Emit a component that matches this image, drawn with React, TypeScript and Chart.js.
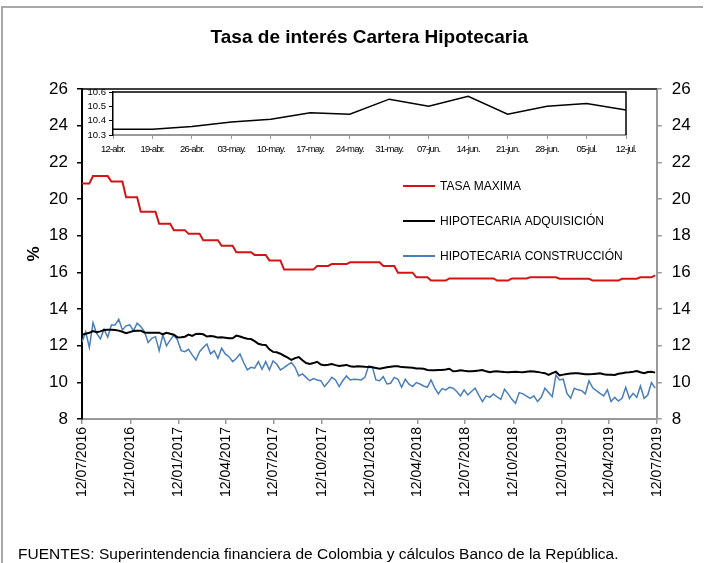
import { useEffect, useRef } from "react";
import { Chart, registerables } from "chart.js";

Chart.register(...registerables);

const FONT = "'Liberation Sans', Arial, Helvetica, sans-serif";
Chart.defaults.font.family = FONT;

const chartTitle = "Tasa de interés Cartera Hipotecaria";
const footerText = "FUENTES: Superintendencia financiera de Colombia y cálculos Banco de la República.";
const seriesNames = ["TASA MAXIMA", "HIPOTECARIA ADQUISICIÓN", "HIPOTECARIA CONSTRUCCIÓN"];
const seriesColors = ["#d41414", "#000000", "#4a7ebb"];

const tickLabels = [
  "12/07/2016", "12/10/2016", "12/01/2017", "12/04/2017", "12/07/2017", "12/10/2017", "12/01/2018",
  "12/04/2018", "12/07/2018", "12/10/2018", "12/01/2019", "12/04/2019", "12/07/2019",
];

// weekly observations starting 12/07/2016
const tasaMaxima = [
  20.85, 20.85, 20.85, 21.25, 21.25, 21.25, 21.25, 21.25, 20.95, 20.95,
  20.95, 20.95, 20.1, 20.1, 20.1, 20.1, 19.3, 19.3, 19.3, 19.3,
  19.3, 18.65, 18.65, 18.65, 18.65, 18.3, 18.3, 18.3, 18.3, 18.1,
  18.1, 18.1, 18.1, 17.75, 17.75, 17.75, 17.75, 17.75, 17.45, 17.45,
  17.45, 17.45, 17.1, 17.1, 17.1, 17.1, 17.1, 16.95, 16.95, 16.95,
  16.95, 16.65, 16.65, 16.65, 16.65, 16.15, 16.15, 16.15, 16.15, 16.15,
  16.15, 16.15, 16.15, 16.15, 16.35, 16.35, 16.35, 16.35, 16.45, 16.45,
  16.45, 16.45, 16.45, 16.55, 16.55, 16.55, 16.55, 16.55, 16.55, 16.55,
  16.55, 16.55, 16.35, 16.35, 16.35, 16.35, 15.98, 15.98, 15.98, 15.98,
  15.98, 15.73, 15.73, 15.73, 15.73, 15.55, 15.55, 15.55, 15.55, 15.55,
  15.67, 15.67, 15.67, 15.67, 15.67, 15.67, 15.67, 15.67, 15.67, 15.67,
  15.67, 15.67, 15.67, 15.55, 15.55, 15.55, 15.55, 15.67, 15.67, 15.67,
  15.67, 15.67, 15.73, 15.73, 15.73, 15.73, 15.73, 15.73, 15.73, 15.73,
  15.65, 15.65, 15.65, 15.65, 15.65, 15.65, 15.65, 15.65, 15.65, 15.55,
  15.55, 15.55, 15.55, 15.55, 15.55, 15.55, 15.55, 15.65, 15.65, 15.65,
  15.65, 15.65, 15.73, 15.73, 15.73, 15.73, 15.84,
];

const hipAdquisicion = [
  12.6, 12.65, 12.7, 12.8, 12.73, 12.78, 12.85, 12.87, 12.87, 12.86,
  12.82, 12.76, 12.68, 12.74, 12.8, 12.82, 12.82, 12.72, 12.71, 12.71,
  12.71, 12.71, 12.62, 12.7, 12.65, 12.6, 12.45, 12.46, 12.49, 12.6,
  12.53, 12.64, 12.65, 12.62, 12.5, 12.53, 12.5, 12.44, 12.46, 12.43,
  12.4, 12.4, 12.55, 12.5, 12.43, 12.38, 12.36, 12.25, 12.1, 12.05,
  12.04, 11.8, 11.66, 11.64, 11.56, 11.45, 11.35, 11.22, 11.32, 11.38,
  11.2, 11.05, 11.0, 11.05, 11.12, 10.97, 10.93, 10.96, 11.0, 10.94,
  10.89, 10.92, 10.95, 10.88, 10.85, 10.88, 10.87, 10.85, 10.84, 10.82,
  10.78, 10.74, 10.78, 10.82, 10.85, 10.88, 10.88, 10.83, 10.82, 10.81,
  10.8, 10.76, 10.75, 10.74, 10.67, 10.66, 10.66, 10.67, 10.67, 10.7,
  10.74, 10.6, 10.62, 10.66, 10.63, 10.61, 10.6, 10.62, 10.64, 10.67,
  10.6, 10.55, 10.59, 10.6, 10.58, 10.56, 10.55, 10.57, 10.58, 10.56,
  10.55, 10.58, 10.6, 10.59, 10.57, 10.53, 10.5, 10.4, 10.5, 10.58,
  10.38, 10.42, 10.45, 10.48, 10.49, 10.49, 10.47, 10.44, 10.44, 10.45,
  10.47, 10.49, 10.44, 10.42, 10.41, 10.4, 10.47, 10.5, 10.53, 10.55,
  10.58, 10.62, 10.55, 10.5, 10.56, 10.58, 10.53,
];

const hipConstruccion = [
  12.2, 12.75, 11.9, 13.25, 12.67, 12.37, 12.9, 12.46, 13.13, 13.13,
  13.44, 12.86, 13.08, 13.13, 12.82, 13.22, 13.04, 12.77, 12.17, 12.4,
  12.49, 11.73, 12.58, 11.99, 12.3, 12.58, 12.3, 11.73, 11.67, 11.8,
  11.5, 11.22, 11.67, 11.9, 12.09, 11.55, 11.73, 11.31, 11.86, 11.55,
  11.4, 11.13, 11.3, 11.55, 11.08, 10.68, 10.82, 10.77, 11.13, 10.71,
  11.13, 10.68, 11.17, 11.0, 10.68, 10.8, 10.95, 11.08, 10.82, 10.35,
  10.46, 10.27, 10.09, 10.2, 10.13, 10.09, 9.77, 10.0, 10.27, 10.13,
  9.77, 10.1, 10.35, 10.13, 10.17, 10.15, 10.13, 10.27, 10.89, 10.86,
  10.13, 10.09, 10.31, 9.91, 9.95, 10.27, 10.17, 9.73, 10.17, 9.9,
  9.77, 9.99, 9.91, 9.8, 9.73, 10.13, 9.7, 9.37, 9.66, 9.59,
  9.73, 9.68, 9.5, 9.26, 9.59, 9.31, 9.5, 9.68, 9.3, 8.95,
  9.26, 9.18, 9.37, 9.2, 9.07, 9.62, 9.37, 9.07, 8.86, 9.44,
  9.37, 9.25, 9.13, 9.26, 8.95, 9.18, 9.68, 9.45, 9.22, 10.4,
  10.13, 10.17, 9.4, 9.13, 9.68, 9.59, 9.55, 9.37, 10.09, 9.7,
  9.55, 9.4, 9.26, 9.59, 8.95, 9.18, 8.98, 9.13, 9.73, 9.13,
  9.4, 9.18, 9.8, 9.13, 9.31, 9.99, 9.68,
];

const insetLabels = [
  "12-abr.", "19-abr.", "26-abr.", "03-may.", "10-may.", "17-may.", "24-may.",
  "31-may.", "07-jun.", "14-jun.", "21-jun.", "28-jun.", "05-jul.", "12-jul.",
];
const insetValues = [10.34, 10.34, 10.36, 10.39, 10.41, 10.455, 10.445, 10.55, 10.5, 10.57, 10.445, 10.5, 10.52, 10.475];

const DAY_MS = 86400000;
const START = Date.UTC(2016, 6, 12);
const dayOffset = (label: string) => {
  const [d, m, y] = label.split("/").map(Number);
  return Math.round((Date.UTC(y, m - 1, d) - START) / DAY_MS);
};
const tickDays = tickLabels.map(dayOffset);
const weekDay = (i: number) => i * 7;

const toPoints = (arr: number[]) => arr.map((v, i) => ({ x: weekDay(i), y: v }));

const insideLegend = {
  id: "insideLegend",
  afterDraw(chart: any) {
    const ctx = chart.ctx;
    ctx.save();
    chart.data.datasets.forEach((ds: any, i: number) => {
      const y = 186 + i * 35;
      ctx.strokeStyle = ds.borderColor;
      ctx.lineWidth = 2;
      ctx.beginPath();
      ctx.moveTo(403, y);
      ctx.lineTo(435, y);
      ctx.stroke();
      ctx.fillStyle = "#000";
      ctx.font = `12px ${FONT}`;
      ctx.textBaseline = "middle";
      ctx.textAlign = "left";
      ctx.fillText(ds.label, 440, y + 0.5);
    });
    ctx.restore();
  },
};

const topBorder = {
  id: "topBorder",
  afterDraw(chart: any) {
    const { ctx, chartArea } = chart;
    ctx.save();
    ctx.strokeStyle = "#000";
    ctx.lineWidth = 1.5;
    ctx.beginPath();
    ctx.moveTo(chartArea.left, chartArea.top);
    ctx.lineTo(chartArea.right, chartArea.top);
    ctx.stroke();
    ctx.restore();
  },
};

const insetBox = {
  id: "insetBox",
  beforeDatasetsDraw(chart: any) {
    const { ctx, chartArea } = chart;
    ctx.save();
    ctx.strokeStyle = "#000";
    ctx.lineWidth = 1.5;
    ctx.beginPath();
    ctx.moveTo(chartArea.left, chartArea.top);
    ctx.lineTo(chartArea.right, chartArea.top);
    ctx.lineTo(chartArea.right, chartArea.bottom);
    ctx.stroke();
    ctx.restore();
  },
};

// the inset's date labels are horizontally condensed in the original
const condensedXLabels = {
  id: "condensedXLabels",
  beforeDraw(chart: any) {
    const xs = chart.scales.x;
    if (xs && !xs._condensed) {
      const orig = xs.drawLabels;
      xs.drawLabels = function (area: any) {
        const c = this.ctx;
        c.save();
        c.letterSpacing = "-0.8px";
        orig.call(this, area);
        c.restore();
      };
      xs._condensed = true;
    }
  },
};

export default function App() {
  const mainRef = useRef<HTMLCanvasElement | null>(null);
  const insetRef = useRef<HTMLCanvasElement | null>(null);

  useEffect(() => {
    const axisFont = { family: FONT, size: 17 };
    const main = new Chart(mainRef.current as HTMLCanvasElement, {
      type: "line",
      data: {
        datasets: [
          { label: seriesNames[0], data: toPoints(tasaMaxima), borderColor: seriesColors[0], borderWidth: 2, pointRadius: 0, yAxisID: "y" },
          { label: seriesNames[1], data: toPoints(hipAdquisicion), borderColor: seriesColors[1], borderWidth: 2, pointRadius: 0, yAxisID: "y" },
          { label: seriesNames[2], data: toPoints(hipConstruccion), borderColor: seriesColors[2], borderWidth: 1.5, pointRadius: 0, yAxisID: "y" },
        ],
      },
      options: {
        animation: false,
        responsive: false,
        layout: { padding: 0 },
        plugins: {
          legend: { display: false },
          tooltip: { enabled: false },
          title: {
            display: true,
            text: chartTitle,
            fullSize: false,
            color: "#000",
            font: { family: FONT, size: 19, weight: "bold" },
            padding: { top: 26, bottom: 40.2 },
          },
        },
        scales: {
          x: {
            type: "linear",
            min: 0,
            max: tickDays[tickDays.length - 1],
            afterBuildTicks: (s: any) => {
              s.ticks = tickDays.map((v) => ({ value: v }));
            },
            afterFit: (s: any) => {
              s.height = 144;
            },
            ticks: {
              autoSkip: false,
              minRotation: 90,
              maxRotation: 90,
              padding: 3,
              color: "#000",
              font: { family: FONT, size: 14 },
              callback: (_v: any, i: number) => tickLabels[i],
            },
            grid: { drawOnChartArea: false, color: "#999", tickLength: 5, lineWidth: 1.5 },
            border: { color: "#999", width: 2 },
          },
          y: {
            type: "linear",
            position: "left",
            min: 8,
            max: 26,
            afterFit: (s: any) => {
              s.width = 82;
            },
            ticks: { stepSize: 2, color: "#000", padding: 9, font: axisFont },
            grid: { drawOnChartArea: false, color: "#000", tickLength: 5, lineWidth: 1.5 },
            border: { color: "#000", width: 2 },
            title: {
              display: true,
              text: "%",
              color: "#000",
              font: { family: FONT, size: 17, weight: "bold" },
              padding: { top: 24, bottom: 0 },
            },
          },
          y2: {
            type: "linear",
            position: "right",
            min: 8,
            max: 26,
            afterFit: (s: any) => {
              s.width = 52.3;
            },
            ticks: { stepSize: 2, color: "#000", padding: 10, font: axisFont },
            grid: { drawOnChartArea: false, color: "#999", tickLength: 5, lineWidth: 1.5 },
            border: { color: "#999", width: 2 },
          },
        },
      } as any,
      plugins: [insideLegend, topBorder],
    });

    const inset = new Chart(insetRef.current as HTMLCanvasElement, {
      type: "line",
      data: {
        labels: insetLabels,
        datasets: [{ data: insetValues, borderColor: "#000", borderWidth: 1.5, pointRadius: 0 }],
      },
      options: {
        animation: false,
        responsive: false,
        layout: { padding: { left: 0, right: 54, top: 8, bottom: 0 } },
        plugins: { legend: { display: false }, tooltip: { enabled: false } },
        scales: {
          x: {
            offset: false,
            afterFit: (s: any) => {
              s.height = 25;
            },
            ticks: { autoSkip: false, maxRotation: 0, padding: 5, color: "#000", font: { family: FONT, size: 9.5 } },
            grid: { drawOnChartArea: false, offset: false, color: "#999", tickLength: 4, lineWidth: 1 },
            border: { color: "#999", width: 2 },
          },
          y: {
            min: 10.3,
            max: 10.6,
            afterFit: (s: any) => {
              s.width = 53;
            },
            ticks: {
              stepSize: 0.1,
              autoSkip: false,
              padding: 3,
              color: "#000",
              font: { family: FONT, size: 9.5, lineHeight: 1 },
              callback: (v: any) => Number(v).toFixed(1),
            },
            grid: { drawOnChartArea: false, color: "#000", tickLength: 4, lineWidth: 1 },
            border: { color: "#000", width: 1.5 },
          },
        },
      } as any,
      plugins: [condensedXLabels, insetBox],
    });

    return () => {
      main.destroy();
      inset.destroy();
    };
  }, []);

  return (
    <div style={{ position: "absolute", left: 0, top: 0, width: 709, height: 563, overflow: "hidden", background: "#fff" }}>
      <div
        style={{
          position: "absolute",
          left: 1,
          top: 6,
          width: 700,
          height: 620,
          borderTop: "2px solid #a8a8a8",
          borderLeft: "2px solid #a8a8a8",
        }}
      />
      <canvas ref={mainRef} width={709} height={563} style={{ position: "absolute", left: 0, top: 0, width: 709, height: 563 }} />
      <canvas ref={insetRef} width={620} height={76} style={{ position: "absolute", left: 60, top: 84, width: 620, height: 76 }} />
      <div
        style={{
          position: "absolute",
          left: 18,
          top: 546,
          fontFamily: FONT,
          fontSize: "15.5px",
          lineHeight: "16px",
          color: "#000",
          whiteSpace: "nowrap",
        }}
      >
        {footerText}
      </div>
    </div>
  );
}
